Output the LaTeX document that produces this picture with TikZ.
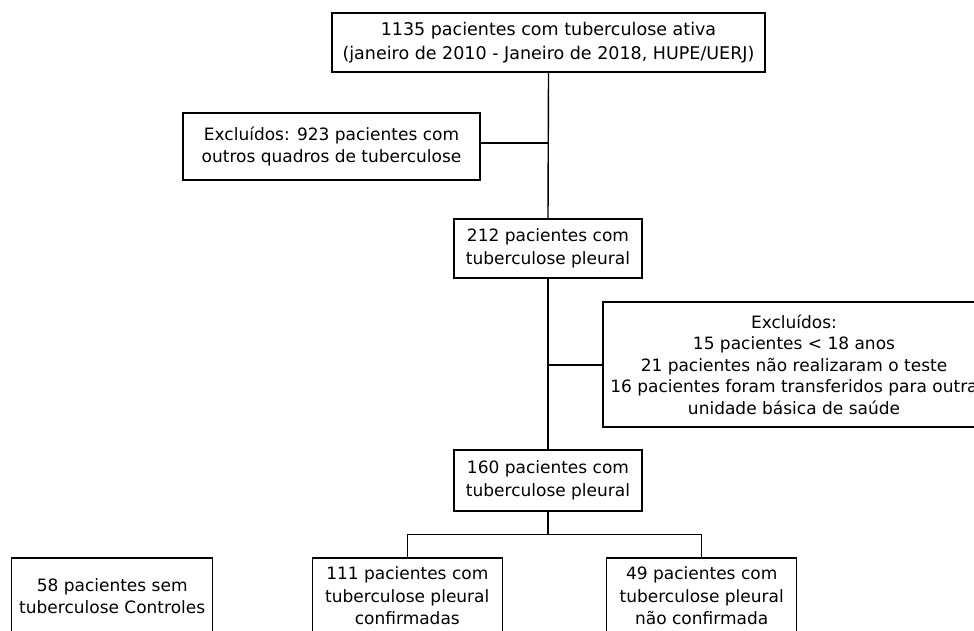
\documentclass[tikz,border=0pt]{standalone}
\usepackage{fontspec}
\setmainfont{DejaVu Sans}
\begin{document}
\begin{tikzpicture}[x=1pt,y=-1pt,
  box/.style={draw, line width=1.4pt, align=center, inner sep=0pt,
    font=\fontsize{17}{22.5}\selectfont},
  link/.style={line width=1.4pt}]
\useasboundingbox (0,0) rectangle (974,631);
\fill[white] (0,0) rectangle (974,631);
\clip (0,0) rectangle (974,631);

\node[box, minimum width=433pt, minimum height=59pt,
  font=\fontsize{17.5}{24}\selectfont] (top) at (548.5,42.5)
  {1135 pacientes com tuberculose ativa\\(janeiro de 2010 - Janeiro de 2018, HUPE/UERJ)};
\node[box, minimum width=297pt, minimum height=67pt] (excl1) at (331.5,146.5)
  {Excluídos: 923 pacientes com\\outros quadros de tuberculose};
\node[box, minimum width=188pt, minimum height=59pt] (n212) at (548,248.5)
  {212 pacientes com\\tuberculose pleural};
\node[box, minimum width=382pt, minimum height=125pt,
  font=\fontsize{17}{21.5}\selectfont] (excl2) at (794,364.5)
  {Excluídos:\\15 pacientes < 18 anos\\21 pacientes não realizaram o teste\\16 pacientes foram transferidos para outra\\unidade básica de saúde};
\node[box, minimum width=188pt, minimum height=61pt] (n160) at (548,480.5)
  {160 pacientes com\\tuberculose pleural};
\node[box, minimum width=201pt, minimum height=76pt] (n58) at (112.2,596)
  {58 pacientes sem\\tuberculose Controles};
\node[box, minimum width=190pt, minimum height=76pt] (n111) at (407.3,596)
  {111 pacientes com\\tuberculose pleural\\confirmadas};
\node[box, minimum width=190pt, minimum height=76pt] (n49) at (701.7,596)
  {49 pacientes com\\tuberculose pleural\\não confirmada};

\coordinate (j1) at (548,143);
\coordinate (j2) at (548,365);
\coordinate (b) at (548,534.3);

\draw[link] (top.south) -- (n212.north);
\draw[link] (excl1.east |- j1) -- (j1);
\draw[link] (n212.south) -- (n160.north);
\draw[link] (j2) -- (excl2.west |- j2);
\draw[link] (n160.south) -- (b);
\draw[link] (n111.north) |- (b) -| (n49.north);
\end{tikzpicture}
\end{document}
